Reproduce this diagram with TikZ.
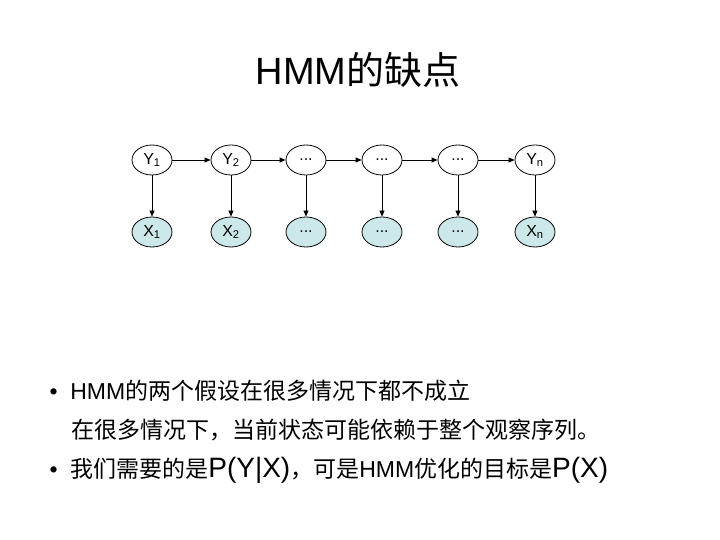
\documentclass[tikz,border=0pt]{standalone}
\usepackage{fontspec}
\setmainfont{Liberation Sans}
\newfontfamily\cjk{Noto Sans CJK SC}
\usetikzlibrary{shapes.geometric,arrows.meta}
\newcommand\dd{...}
\begin{document}
\begin{tikzpicture}[x=1pt,y=-1pt,
  hid/.style={ellipse,draw,thick,minimum width=40pt,minimum height=30pt,inner sep=0pt,font=\fontsize{16}{18}\selectfont},
  obs/.style={hid,fill={rgb,255:red,204;green,232;blue,232}},
  arr/.style={-{Triangle[length=6pt,width=5pt]},thick}]
\useasboundingbox (0,0) rectangle (720,540);
\node[font=\fontsize{38}{44}\selectfont] (title) at (358,70) {HMM{\cjk 的缺点}};
\foreach \i/\x/\ty/\tx in {1/152/Y\textsubscript{1}/X\textsubscript{1},2/231/Y\textsubscript{2}/X\textsubscript{2},3/306/\dd/\dd,4/382/\dd/\dd,5/458/\dd/\dd,6/535/Y\textsubscript{n}/X\textsubscript{n}}{
  \node[hid] (y\i) at (\x,160) {\ty};
  \node[obs] (x\i) at (\x,232) {\tx};
  \draw[arr] (y\i) -- (x\i);
}
\foreach \a/\b in {1/2,2/3,3/4,4/5,5/6}{\draw[arr] (y\a) -- (y\b);}
\node[anchor=west,font=\fontsize{23}{26}\selectfont] (b1) at (46,391) {\textbullet\ \ HMM{\cjk 的两个假设在很多情况下都不成立}};
\node[anchor=west,font=\fontsize{23}{26}\selectfont] (b1b) at (68,430) {\cjk 在很多情况下，当前状态可能依赖于整个观察序列。};
\node[anchor=west,font=\fontsize{23}{26}\selectfont] (b2) at (46,470) {\textbullet\ \ {\cjk 我们需要的是}{\fontsize{28}{30}\selectfont P(Y|X)}{\cjk ，可是}HMM{\cjk 优化的目标是}{\fontsize{28}{30}\selectfont P(X)}};
\end{tikzpicture}
\end{document}
